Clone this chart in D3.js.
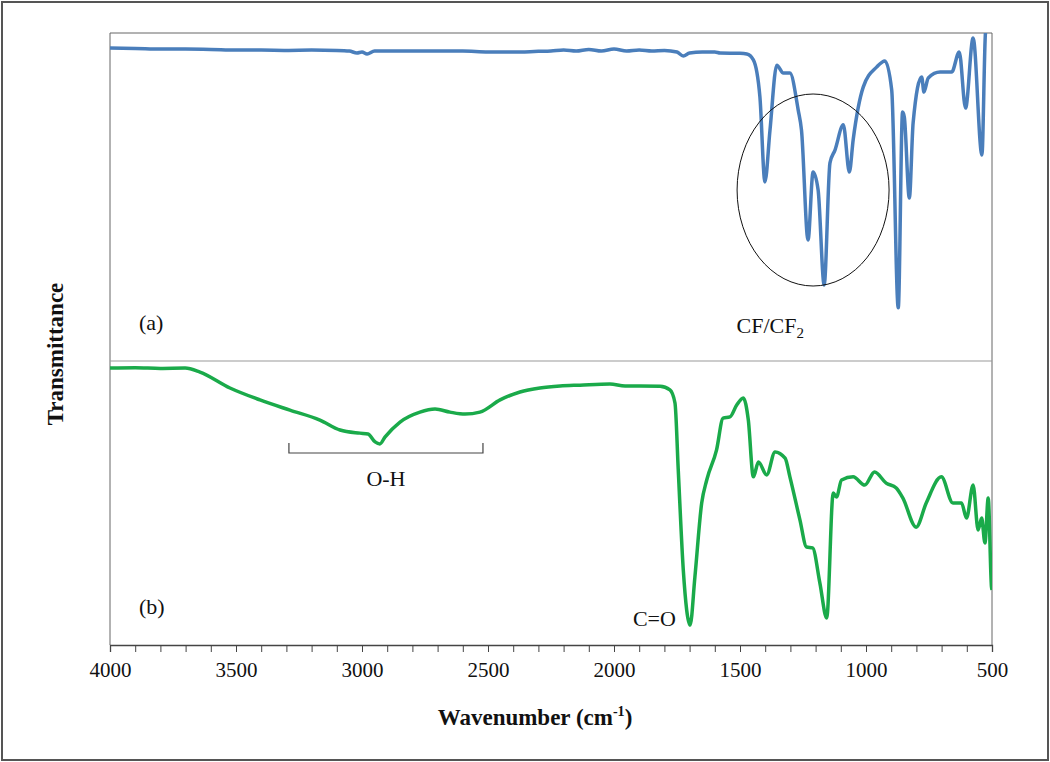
<!DOCTYPE html>
<html>
<head>
<meta charset="utf-8">
<script src="https://cdn.jsdelivr.net/npm/d3@7"></script>
<style>
  body { margin: 0; background: #fff; }
  svg text { font-family: "Liberation Serif", "Times New Roman", serif; fill: #111; }
</style>
</head>
<body>
<div id="chart"></div>
<script>
// spectrum (a) - wavenumbers and transmittance (arbitrary units, 0-100)
const wnA = [4000,3900,3800,3700,3600,3500,3400,3300,3200,3100,3050,3020,3000,2980,2950,2900,2800,2700,2600,2500,
  2400,2300,2250,2200,2150,2100,2050,2000,1950,1900,1850,1800,1750,1725,1700,1650,1600,1579,1500,1473,
  1447,1421,1401,1381,1354,1328,1302,1269,1256,1230,1210,1190,1166,1143,1123,1090,1066,1051,1011,958,
  925,898,872,855,848,828,813,779,770,753,706,660,630,605,575,540,526,510];
const tA = [95.4,95.3,95.1,95.1,95.0,94.8,94.8,94.7,94.8,94.7,94.5,93.9,94.2,93.6,94.5,94.5,94.5,94.5,94.5,94.2,
  94.2,94.4,94.5,94.8,94.5,95.0,94.5,95.1,94.5,94.8,94.5,94.7,94.2,93.0,93.9,94.2,94.2,93.9,93.8,93.6,
  91.8,80.5,54.6,70.4,90.2,87.8,87.8,76.5,70.4,36.9,57.6,52.1,23.2,60.4,64.3,72.0,57.6,67.4,83.5,89.6,
  91.5,82.6,16.2,75.9,74.4,49.7,72.6,86.6,82.0,86.3,88.1,88.1,94.2,77.1,98.5,62.8,100,107];

// spectrum (b)
const wnB = [4000,3900,3800,3702,3643,3524,3405,3286,3167,3087,3008,2976,2948,2929,2909,2849,2770,2710,2651,2591,
  2532,2452,2373,2294,2214,2135,2016,1956,1897,1817,1778,1758,1745,1725,1698,1679,1652,1632,1593,1567,
  1540,1513,1487,1467,1447,1427,1394,1361,1321,1302,1262,1236,1212,1183,1156,1130,1117,1097,1051,1005,
  966,920,880,854,801,761,701,655,621,601,575,555,541,528,515,502,500];
const tB = [97.5,97.6,97.4,97.5,96.1,90.5,86.3,82.7,79.2,75.7,74.6,74.3,71.5,70.8,73.2,78.5,82.0,83.1,82.0,81.3,
  82.0,86.3,89.1,90.5,91.2,91.5,91.9,91.2,91.2,91.1,89.8,85.2,61.6,26.4,7.0,23.9,50.0,58.1,68.7,79.9,
  80.3,84.5,87.0,79.2,59.2,64.4,59.9,68.0,65.8,59.2,44.0,34.5,34.2,21.8,9.5,53.5,52.1,58.1,59.2,56.3,
  60.9,57.0,55.3,51.8,41.5,50.0,59.2,50.0,50.0,44.7,56.3,40.5,44.7,35.9,51.8,20.4,19.4];

const xTicks = [4000,3500,3000,2500,2000,1500,1000,500];

const width = 1050, height = 762;
const pLeft = 110, pRight = 992, pTop = 33, pMid = 361, pBottom = 645;
const serif = "'Liberation Serif', 'Times New Roman', serif";

const svg = d3.select("#chart").append("svg")
    .attr("width", width)
    .attr("height", height);

// outer frame
svg.append("rect")
    .attr("x", 2).attr("y", 2)
    .attr("width", width - 4).attr("height", height - 4)
    .attr("fill", "none").attr("stroke", "#555").attr("stroke-width", 2);

let x = d3.scaleLinear().domain([4000, 500]).range([pLeft, pRight]);
let yA = d3.scaleLinear().domain([0, 100]).range([pMid, pTop]);
let yB = d3.scaleLinear().domain([0, 100]).range([pBottom, pMid]);

svg.append("clipPath").attr("id", "plotclip")
    .append("rect").attr("x", pLeft).attr("y", pTop)
    .attr("width", pRight - pLeft).attr("height", pBottom - pTop);

// plot frame + divider
svg.append("line").attr("x1", pLeft).attr("x2", pLeft).attr("y1", pTop).attr("y2", pBottom).attr("stroke", "#666");
svg.append("line").attr("x1", pRight).attr("x2", pRight).attr("y1", pTop).attr("y2", pBottom).attr("stroke", "#666");
svg.append("line").attr("x1", pLeft).attr("x2", pRight).attr("y1", pTop).attr("y2", pTop).attr("stroke", "#666");
svg.append("line").attr("x1", pLeft).attr("x2", pRight).attr("y1", pMid).attr("y2", pMid).attr("stroke", "#999");

// x axis, minor ticks every 100
let xAxis = d3.axisBottom(x)
    .tickValues(d3.range(4000, 499, -100))
    .tickSize(7)
    .tickFormat(d => xTicks.includes(d) ? d : "");
let gx = svg.append("g").attr("transform", `translate(0,${pBottom})`).call(xAxis);
gx.attr("font-family", serif).attr("font-size", 21);
gx.select(".domain").attr("stroke", "#444").attr("stroke-width", 1.3);
gx.selectAll(".tick line").attr("stroke", "#444");
gx.selectAll(".tick text")
    .attr("dy", "1.05em")
    .style("font-family", serif)
    .style("font-size", "21px")
    .attr("fill", "#111");

let lineA = d3.line().x((d, i) => x(wnA[i])).y(d => yA(d)).curve(d3.curveMonotoneX);
let lineB = d3.line().x((d, i) => x(wnB[i])).y(d => yB(d)).curve(d3.curveMonotoneX);

let plot = svg.append("g").attr("clip-path", "url(#plotclip)");
plot.append("path").datum(tA)
    .attr("d", lineA)
    .attr("fill", "none").attr("stroke", "#4A7EBB")
    .attr("stroke-width", 3.5).attr("stroke-linejoin", "round");
plot.append("path").datum(tB)
    .attr("d", lineB)
    .attr("fill", "none").attr("stroke", "#1AAA4A")
    .attr("stroke-width", 3.5).attr("stroke-linejoin", "round");

// annotations
svg.append("ellipse")
    .attr("cx", x(1210)).attr("cy", 190)
    .attr("rx", 76).attr("ry", 96)
    .attr("fill", "none").attr("stroke", "#111").attr("stroke-width", 1);

let cf = svg.append("text").attr("x", x(1380)).attr("y", 333)
    .attr("text-anchor", "middle").style("font-size", "22px");
cf.append("tspan").text("CF/CF");
cf.append("tspan").text("2").attr("dy", 5).style("font-size", "15px");

svg.append("text").attr("x", 139).attr("y", 330).style("font-size", "22px").text("(a)");
svg.append("text").attr("x", 139).attr("y", 614).style("font-size", "22px").text("(b)");
svg.append("text").attr("x", x(1925)).attr("y", 626).style("font-size", "22px").text("C=O");

// O-H bracket
svg.append("path")
    .attr("d", `M${x(3290)},443 V453 H${x(2520)} V443`)
    .attr("fill", "none").attr("stroke", "#444").attr("stroke-width", 1.2);
svg.append("text").attr("x", x(2905)).attr("y", 486)
    .attr("text-anchor", "middle").style("font-size", "22px").text("O-H");

// axis titles
let xt = svg.append("text").attr("x", 535).attr("y", 725)
    .attr("text-anchor", "middle").style("font-size", "23px").style("font-weight", "bold");
xt.append("tspan").text("Wavenumber (cm");
xt.append("tspan").text("-1").attr("dy", -9).style("font-size", "14px");
xt.append("tspan").text(")").attr("dy", 9);

svg.append("text")
    .attr("transform", "translate(63,354) rotate(-90)")
    .attr("text-anchor", "middle")
    .style("font-size", "23px").style("font-weight", "bold")
    .text("Transmittance");
</script>
</body>
</html>
